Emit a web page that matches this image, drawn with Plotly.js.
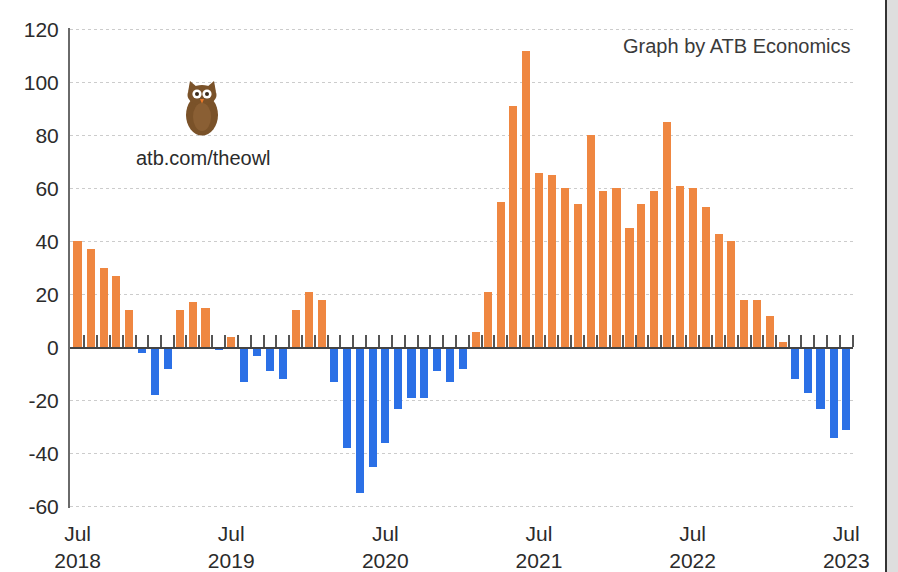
<!DOCTYPE html>
<html>
<head>
<meta charset="utf-8">
<script src="https://cdn.plot.ly/plotly-3.0.1.min.js"></script>
<style>html,body{margin:0;padding:0;background:#fff;}#chart{width:898px;height:572px;}</style>
</head>
<body>
<div id="chart"></div>
<script>
// Monthly values, Jul 2018 – Jul 2023
const months = [
  '2018-07','2018-08','2018-09','2018-10','2018-11','2018-12',
  '2019-01','2019-02','2019-03','2019-04','2019-05','2019-06','2019-07','2019-08','2019-09','2019-10','2019-11','2019-12',
  '2020-01','2020-02','2020-03','2020-04','2020-05','2020-06','2020-07','2020-08','2020-09','2020-10','2020-11','2020-12',
  '2021-01','2021-02','2021-03','2021-04','2021-05','2021-06','2021-07','2021-08','2021-09','2021-10','2021-11','2021-12',
  '2022-01','2022-02','2022-03','2022-04','2022-05','2022-06','2022-07','2022-08','2022-09','2022-10','2022-11','2022-12',
  '2023-01','2023-02','2023-03','2023-04','2023-05','2023-06','2023-07'
];
const values = [
  40, 37, 30, 27, 14, -2,
  -18, -8, 14, 17, 15, -1, 4, -13, -3, -9, -12, 14,
  21, 18, -13, -38, -55, -45, -36, -23, -19, -19, -9, -13,
  -8, 6, 21, 55, 91, 112, 66, 65, 60, 54, 80, 59,
  60, 45, 54, 59, 85, 61, 60, 53, 43, 40, 18, 18,
  12, 2, -12, -17, -23, -34, -31
];
const tickDates = ['2018-07-01','2019-07-01','2020-07-01','2021-07-01','2022-07-01','2023-07-01'];
const tickLabels = ['Jul<br>2018','Jul<br>2019','Jul<br>2020','Jul<br>2021','Jul<br>2022','Jul<br>2023'];
const yTickVals = [-60, -40, -20, 0, 20, 40, 60, 80, 100, 120];
const yTickLabels = ['-60', '-40', '-20', '0', '20', '40', '60', '80', '100', '120'];

const ORANGE = '#EF8741';
const BLUE = '#2B70E6';
const yRange = [-60.5, 120.5];
const zeroPos = (0 - yRange[0]) / (yRange[1] - yRange[0]);
const xRange = ['2018-06-13', '2023-07-17'];

const trace = {
  type: 'bar',
  x: months.map(m => m + '-01'),
  y: values,
  width: 19.5 * 86400000,
  marker: { color: values.map(v => v >= 0 ? ORANGE : BLUE), line: { width: 0 } },
  hoverinfo: 'x+y'
};
// invisible trace so the overlay axis (zero-line ticks) is drawn
const tickTrace = {
  type: 'scatter', mode: 'markers', x: [months[0] + '-01'], y: [0],
  xaxis: 'x2', yaxis: 'y', marker: { opacity: 0 }, hoverinfo: 'skip', showlegend: false
};

const owlSvg =
  '<svg xmlns="http://www.w3.org/2000/svg" width="40" height="58" viewBox="0 0 40 58">' +
  '<polygon points="6,12 8,1 15,7" fill="#7a5229"/>' +
  '<polygon points="34,12 32,1 25,7" fill="#7a5229"/>' +
  '<ellipse cx="20" cy="35" rx="16" ry="20.5" fill="#7a5229"/>' +
  '<ellipse cx="20" cy="15" rx="14.5" ry="10" fill="#7a5229"/>' +
  '<ellipse cx="20" cy="37" rx="9" ry="14" fill="#8a5f34"/>' +
  '<circle cx="15" cy="14" r="4.6" fill="#fff"/>' +
  '<circle cx="25" cy="14" r="4.6" fill="#fff"/>' +
  '<circle cx="15" cy="14" r="2" fill="#3a2a1a"/>' +
  '<circle cx="25" cy="14" r="2" fill="#3a2a1a"/>' +
  '<polygon points="18,19 22,19 20,23.5" fill="#f07a2a"/>' +
  '</svg>';
const owlSrc = 'data:image/svg+xml;base64,' + btoa(owlSvg);

const W = 898, H = 572, L = 70, R = 45, T = 28, B = 64;
const pw = W - L - R, ph = H - T - B;
const px = x => (x - L) / pw;
const py = y => (H - B - y) / ph;

const layout = {
  width: W, height: H,
  margin: { l: L, r: R, t: T, b: B, pad: 0 },
  paper_bgcolor: '#fff', plot_bgcolor: '#fff',
  showlegend: false,
  bargap: 0,
  font: { family: 'Liberation Sans, Arial, sans-serif', color: '#333' },
  xaxis: {
    type: 'date', range: xRange,
    tickvals: tickDates, ticktext: tickLabels,
    showgrid: false, zeroline: false, showline: false, ticks: '',
    tickfont: { size: 21, color: '#2b2b2b' },
    ticklabelstandoff: 11
  },
  xaxis2: {
    type: 'date', overlaying: 'x', matches: 'x', anchor: 'free', position: zeroPos,
    side: 'top', showline: true, linecolor: '#444', linewidth: 2,
    ticks: 'outside', ticklen: 12, tickwidth: 2, tickcolor: '#555',
    tickvals: months.map(m => m + '-16'), showticklabels: false,
    showgrid: false, zeroline: false
  },
  yaxis: {
    range: yRange, tickvals: yTickVals, ticktext: yTickLabels,
    showgrid: true, gridcolor: '#cccccc', griddash: 'dot', gridwidth: 1.5,
    zeroline: false,
    showline: true, linecolor: '#6a6a6a', linewidth: 2,
    ticks: '', tickfont: { size: 21, color: '#2b2b2b' },
    ticklabelstandoff: 5
  },
  annotations: [
    { xref: 'paper', yref: 'paper', x: 1, y: py(46), xanchor: 'right', yanchor: 'middle',
      text: 'Graph by ATB Economics', showarrow: false,
      font: { size: 20, color: '#3a3a3a', family: 'Liberation Sans, Arial, sans-serif' } },
    { xref: 'paper', yref: 'paper', x: px(203), y: py(158), xanchor: 'center', yanchor: 'middle',
      text: 'atb.com/theowl', showarrow: false,
      font: { size: 20, color: '#2b2b2b', family: 'Liberation Sans, Arial, sans-serif' } }
  ],
  images: [
    { source: owlSrc, xref: 'paper', yref: 'paper', x: px(182), y: py(80),
      sizex: 40 / pw, sizey: 58 / ph, xanchor: 'left', yanchor: 'top', sizing: 'stretch', layer: 'above' }
  ],
  shapes: [
    { type: 'rect', xref: 'paper', yref: 'paper', x0: px(887), x1: px(900), y0: py(575), y1: py(-5),
      fillcolor: '#dedede', line: { width: 0 } },
    { type: 'line', xref: 'paper', yref: 'paper', x0: px(886), x1: px(886), y0: py(575), y1: py(-5),
      line: { color: '#333', width: 2 } }
  ]
};

Plotly.newPlot('chart', [trace, tickTrace], layout, { displayModeBar: false, staticPlot: true });
</script>
</body>
</html>
